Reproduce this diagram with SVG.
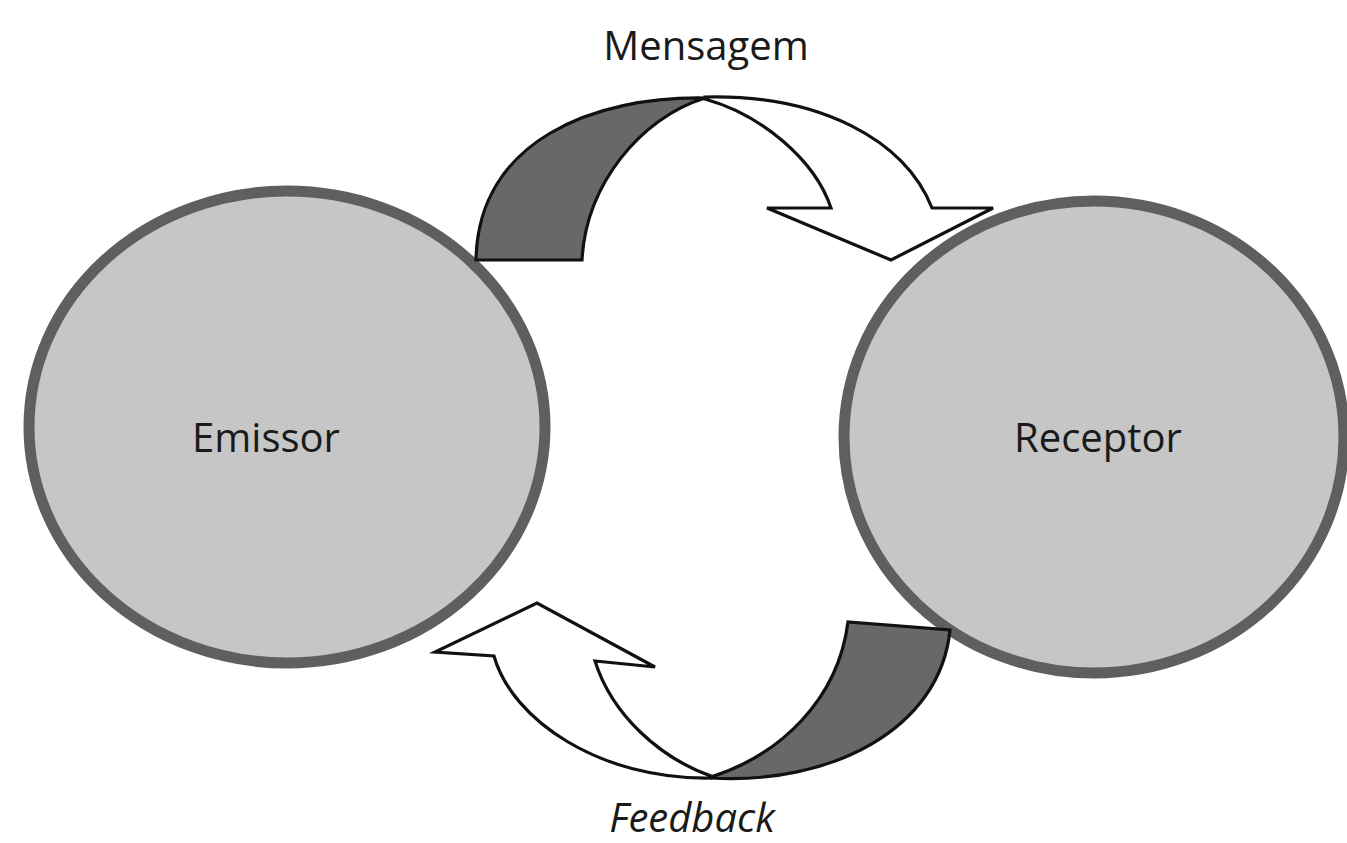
<svg xmlns="http://www.w3.org/2000/svg" width="1347" height="843" viewBox="0 0 1347 843">
<style>
.node{fill:#c6c6c6;stroke:#5f5f5f;stroke-width:11}
.lbl{font-family:"Open Sans","Liberation Sans",sans-serif;font-size:40px;fill:#1a1a1a;text-anchor:middle}
.dark{fill:#686868;stroke:#111;stroke-width:3.2;stroke-linejoin:miter}
.light{fill:#fff;stroke:#111;stroke-width:3.2;stroke-linejoin:miter}
</style>
<rect width="1347" height="843" fill="#fff"/>
<g id="emissor">
<ellipse class="node" cx="287" cy="427" rx="258" ry="236"/>
<text class="lbl" x="266" y="452">Emissor</text>
</g>
<g id="receptor">
<ellipse class="node" cx="1094" cy="437" rx="250" ry="236"/>
<text class="lbl" x="1098" y="452">Receptor</text>
</g>
<g id="connectors">
<path class="dark" d="M705,98 C595,96 478,140 476,260 L582,260 C586,185 640,118 705,98 Z"/>
<path class="light" d="M705,97 C820,94 905,140 932,208 L993,208 L891,260 L767,208 L831,208 C815,160 762,115 705,99 Z"/>
<path class="dark" d="M711,778 C830,785 940,730 950,630 L848,622 C838,700 780,755 711,777 Z"/>
<path class="light" d="M711,778 C600,780 512,720 494,656 L435,652 L537,603 L655,667 L595,661 C612,715 660,758 711,776 Z"/>
</g>
<g id="labels">
<text class="lbl" x="706" y="60" font-size="41">Mensagem</text>
<text class="lbl" x="692" y="832" font-size="39" font-style="italic">Feedback</text>
</g>
</svg>
